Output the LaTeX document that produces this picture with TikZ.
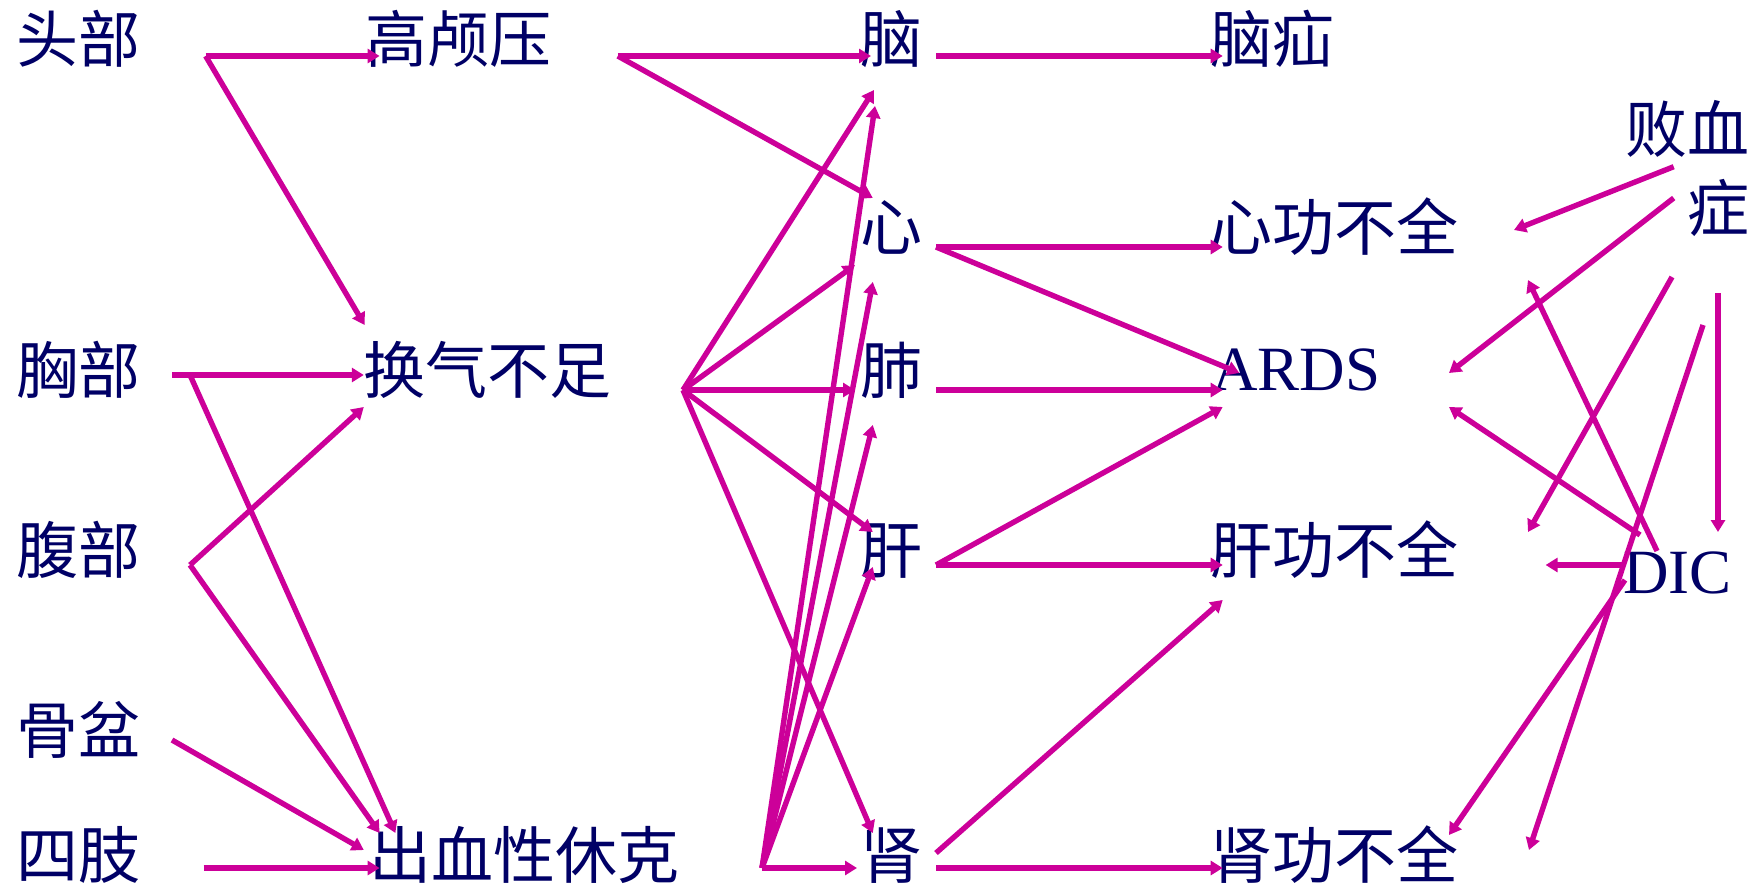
\documentclass[tikz,border=0pt]{standalone}
\usepackage{fontspec}
\setmainfont{Liberation Serif}
\newfontfamily\cjkfont{Noto Sans CJK SC}
\usetikzlibrary{arrows.meta}
\definecolor{navy}{HTML}{000066}
\definecolor{mag}{HTML}{CC0099}
\begin{document}
\begin{tikzpicture}[x=1pt,y=-1pt,
  zh/.style={text=navy, font=\cjkfont\fontsize{62}{79}\selectfont, inner sep=0pt, anchor=base west},
  en/.style={text=navy, font=\fontsize{63}{74}\selectfont, inner sep=0pt, anchor=base west},
  arr/.style={draw=mag, line width=5.4pt, -{Triangle[length=12pt,width=14pt]}},
]
\useasboundingbox (0,0) rectangle (1762,888);
% ---- nodes
\node[zh] (toubu) at (16,63) {头部};
\node[zh] (xiongbu) at (16,393) {胸部};
\node[zh] (fubu) at (16,573) {腹部};
\node[zh] (gupen) at (16,753) {骨盆};
\node[zh] (sizhi) at (16,878) {四肢};
\node[zh] (gly) at (365,63) {高颅压};
\node[zh] (hqbz) at (363,393) {换气不足};
\node[zh] (cxxk) at (369,878) {出血性休克};
\node[zh] (nao) at (860,63) {脑};
\node[zh] (xin) at (860,250) {心};
\node[zh] (fei) at (860,393) {肺};
\node[zh] (gan) at (860,573) {肝};
\node[zh] (shen) at (860,878) {肾};
\node[zh] (naoshan) at (1210,63) {脑疝};
\node[zh] (xgbq) at (1210,250) {心功不全};
\node[en] (ards) at (1212,390) {ARDS};
\node[zh] (ggbq) at (1210,573) {肝功不全};
\node[zh] (sgbq) at (1210,878) {肾功不全};
\node[zh, anchor=north east, align=right] (bxz) at (1750,100) {败血\\症};
\node[en] (dic) at (1623,593) {DIC};
% ---- connector end points
\coordinate (toubuO) at (205.6,56);
\coordinate (glyI) at (379.6,56);
\coordinate (hqbzI1) at (364.6,325);
\coordinate (xbO) at (172,375);
\coordinate (xbJ) at (190,375);
\coordinate (hqbzI2) at (363.8,375);
\coordinate (cxxkI1) at (395.4,833);
\coordinate (fbO) at (190,565);
\coordinate (hqbzI3) at (363.8,407);
\coordinate (cxxkI2) at (379.6,833);
\coordinate (gpO) at (172,740);
\coordinate (cxxkI3) at (363.8,850);
\coordinate (szO) at (203.6,868);
\coordinate (cxxkI4) at (379.6,868);
\coordinate (glyO) at (617.8,56);
\coordinate (naoI1) at (871,56);
\coordinate (xinI1) at (872.8,198);
\coordinate (naoO) at (936,56);
\coordinate (nsI) at (1222.7,56);
\coordinate (xinO) at (936,247);
\coordinate (xgI1) at (1222.7,247);
\coordinate (ardsI1) at (1239.4,373);
\coordinate (feiO) at (936,390);
\coordinate (ardsI2) at (1222.7,390);
\coordinate (hqO) at (683,390);
\coordinate (naoI2) at (874,90);
\coordinate (xinI2) at (855,265);
\coordinate (feiI1) at (855,390);
\coordinate (ganI1) at (872.8,532);
\coordinate (shenI1) at (872.8,833);
\coordinate (cxO) at (762,868);
\coordinate (shenI2) at (857,868);
\coordinate (ganI2) at (872.8,567);
\coordinate (feiI2) at (872.8,425);
\coordinate (xinI3) at (872.8,282);
\coordinate (naoI3) at (875,106);
\coordinate (ganO) at (936,565);
\coordinate (ardsI3) at (1222.7,407);
\coordinate (ggI1) at (1222.7,565);
\coordinate (shenO1) at (936,853);
\coordinate (ggI2) at (1222.7,600);
\coordinate (shenO2) at (936,868);
\coordinate (sgI1) at (1222.7,868);
\coordinate (bxO1) at (1673.7,166.7);
\coordinate (xgI2) at (1514,230);
\coordinate (bxO2) at (1673.7,198);
\coordinate (ardsI4) at (1449,373);
\coordinate (bxO3) at (1672,277);
\coordinate (ggI3) at (1528,532);
\coordinate (bxO4) at (1718,293);
\coordinate (dicI1) at (1718,532);
\coordinate (bxO5) at (1703,325);
\coordinate (sgI2) at (1529,850);
\coordinate (dicO1) at (1657,551);
\coordinate (xgI3) at (1528,280);
\coordinate (dicO2) at (1640,535);
\coordinate (ardsI5) at (1449,407);
\coordinate (dicO3) at (1623.6,565);
\coordinate (ggI4) at (1545.6,565);
\coordinate (dicO4) at (1625,580);
\coordinate (sgI3) at (1449,835);
% ---- connectors
\draw[arr] (toubuO) -- (glyI);
\draw[arr] (toubuO) -- (hqbzI1);
\draw[arr] (xbO) -- (hqbzI2);
\draw[arr] (xbJ) -- (cxxkI1);
\draw[arr] (fbO) -- (hqbzI3);
\draw[arr] (fbO) -- (cxxkI2);
\draw[arr] (gpO) -- (cxxkI3);
\draw[arr] (szO) -- (cxxkI4);
\draw[arr] (glyO) -- (naoI1);
\draw[arr] (glyO) -- (xinI1);
\draw[arr] (naoO) -- (nsI);
\draw[arr] (xinO) -- (xgI1);
\draw[arr] (xinO) -- (ardsI1);
\draw[arr] (feiO) -- (ardsI2);
\draw[arr] (hqO) -- (naoI2);
\draw[arr] (hqO) -- (xinI2);
\draw[arr] (hqO) -- (feiI1);
\draw[arr] (hqO) -- (ganI1);
\draw[arr] (hqO) -- (shenI1);
\draw[arr] (cxO) -- (shenI2);
\draw[arr] (cxO) -- (ganI2);
\draw[arr] (cxO) -- (feiI2);
\draw[arr] (cxO) -- (xinI3);
\draw[arr] (cxO) -- (naoI3);
\draw[arr] (ganO) -- (ardsI3);
\draw[arr] (ganO) -- (ggI1);
\draw[arr] (shenO1) -- (ggI2);
\draw[arr] (shenO2) -- (sgI1);
\draw[arr] (bxO1) -- (xgI2);
\draw[arr] (bxO2) -- (ardsI4);
\draw[arr] (bxO3) -- (ggI3);
\draw[arr] (bxO4) -- (dicI1);
\draw[arr] (bxO5) -- (sgI2);
\draw[arr] (dicO1) -- (xgI3);
\draw[arr] (dicO2) -- (ardsI5);
\draw[arr] (dicO3) -- (ggI4);
\draw[arr] (dicO4) -- (sgI3);
\end{tikzpicture}
\end{document}
